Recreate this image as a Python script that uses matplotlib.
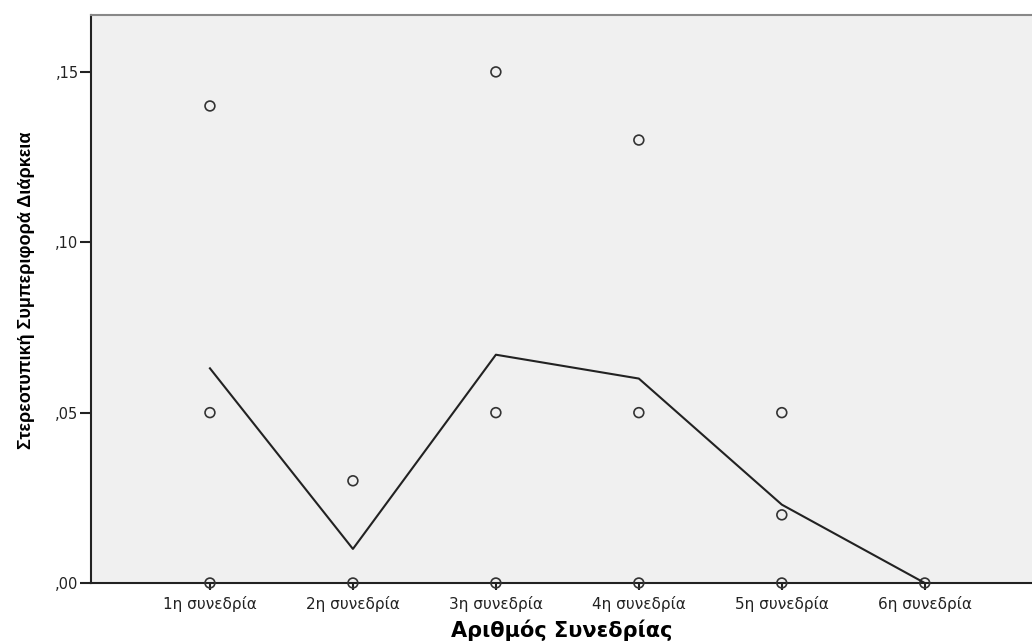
import matplotlib
matplotlib.use("Agg")
import matplotlib.pyplot as plt
from matplotlib.ticker import FixedLocator, FuncFormatter

plt.rcParams['font.family'] = ['DejaVu Sans']

sessions = ["1η συνεδρία", "2η συνεδρία", "3η συνεδρία",
            "4η συνεδρία", "5η συνεδρία", "6η συνεδρία"]
# individual observations per session
obs_values = [
    [0.00, 0.05, 0.14],
    [0.00, 0.03],
    [0.00, 0.05, 0.15],
    [0.00, 0.05, 0.13],
    [0.00, 0.02, 0.05],
    [0.00],
]
# session means
mean_values = [0.063, 0.010, 0.067, 0.060, 0.023, 0.000]
y_ticks = [0.00, 0.05, 0.10, 0.15]

fig = plt.figure(figsize=(10.32, 6.44), dpi=100)
ax = fig.add_axes([91/1032, 1 - 583/644, 1 - 91/1032, (583 - 15)/644])
ax.set_facecolor('#f0f0f0')

xs = list(range(len(sessions)))
for x, vals in zip(xs, obs_values):
    ax.scatter([x]*len(vals), vals, s=50, facecolors='none',
               edgecolors='#333333', linewidths=1.2, zorder=3, clip_on=False)
ax.plot(xs, mean_values, color='#222222', linewidth=1.5, zorder=4, clip_on=False)

ax.set_xlim(-0.832, 5.75)
ax.set_ylim(0, 0.1667)
ax.xaxis.set_major_locator(FixedLocator(xs))
ax.set_xticklabels(sessions)
ax.yaxis.set_major_locator(FixedLocator(y_ticks))
ax.yaxis.set_major_formatter(FuncFormatter(lambda v, p: ("%.2f" % v).lstrip('0').replace('.', ',')))
ax.tick_params(axis='y', length=8, width=1.5, labelsize=10.5, colors='#222222', pad=1)
ax.tick_params(axis='x', length=5, width=1.5, labelsize=11, colors='#222222', pad=4)

for side in ['left', 'bottom']:
    ax.spines[side].set_color('#222222')
    ax.spines[side].set_linewidth(1.5)
ax.spines['top'].set_color('#888888')
ax.spines['top'].set_linewidth(1.5)
ax.spines['right'].set_visible(False)

ax.set_xlabel("Αριθμός Συνεδρίας", fontsize=15, fontweight='bold', labelpad=6)
ax.set_ylabel("Στερεοτυπική Συμπεριφορά Διάρκεια", fontsize=13, fontweight='bold',
              family='Liberation Sans', fontstretch='condensed')
ax.yaxis.set_label_coords(-0.060, 0.516)

fig.savefig("out.png", dpi=100)
